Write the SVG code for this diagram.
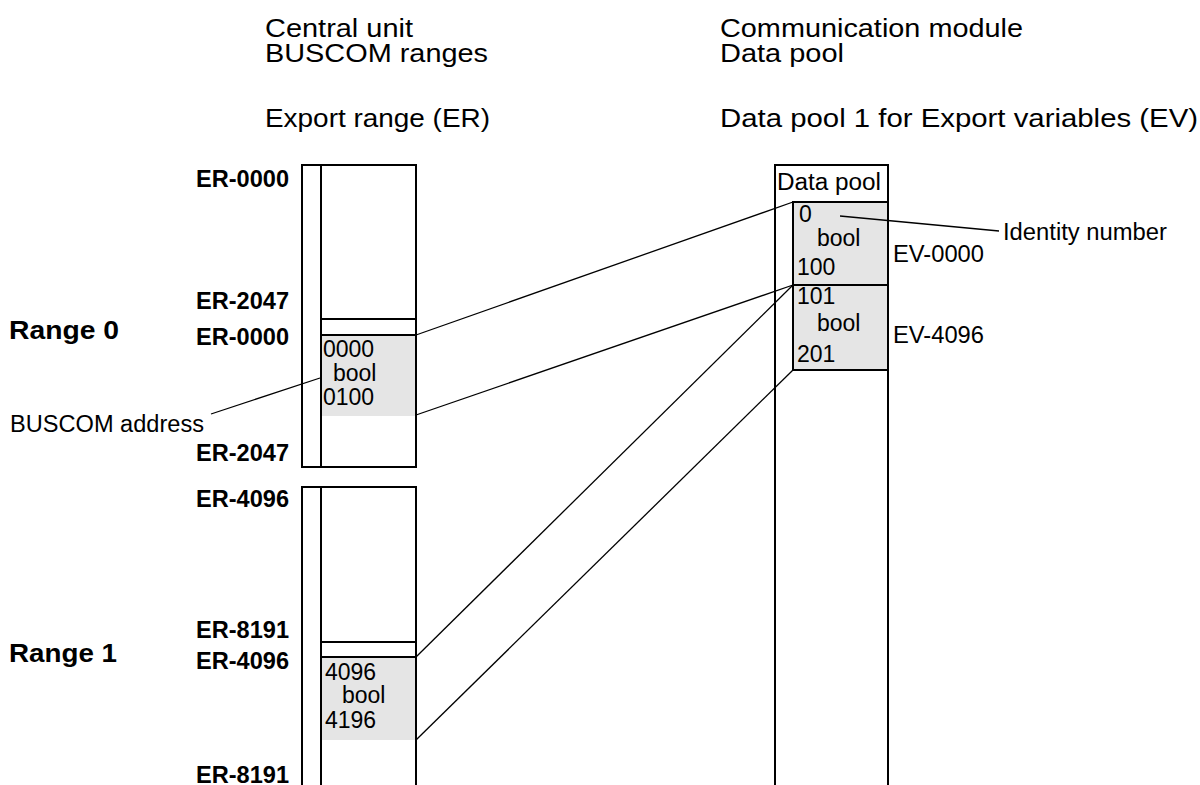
<svg xmlns="http://www.w3.org/2000/svg" width="1200" height="785" viewBox="0 0 1200 785">
  <style>
    text { font-family: "Liberation Sans", Arial, sans-serif; fill: #000; }
    .title { font-size: 26px; }
    .lbl { font-size: 23px; }
    .er { font-size: 23px; font-weight: bold; }
    .range { font-size: 26px; font-weight: bold; }
    .box { fill: none; stroke: #000; stroke-width: 2; }
    .fill { fill: #e5e5e5; stroke: none; }
    .conn { fill: none; stroke: #000; stroke-width: 1.3; }
  </style>
  <rect width="1200" height="785" fill="#fff"/>

  <!-- headings -->
  <g id="heading-central">
    <text class="title" x="265" y="37" textLength="148" lengthAdjust="spacingAndGlyphs">Central unit</text>
    <text class="title" x="265" y="62" textLength="223" lengthAdjust="spacingAndGlyphs">BUSCOM ranges</text>
    <text class="title" x="265" y="127" textLength="225" lengthAdjust="spacingAndGlyphs">Export range (ER)</text>
  </g>
  <g id="heading-module">
    <text class="title" x="720" y="37" textLength="303" lengthAdjust="spacingAndGlyphs">Communication module</text>
    <text class="title" x="720" y="62" textLength="124" lengthAdjust="spacingAndGlyphs">Data pool</text>
    <text class="title" x="720" y="127" textLength="478" lengthAdjust="spacingAndGlyphs">Data pool 1 for Export variables (EV)</text>
  </g>

  <!-- range labels -->
  <g id="range0-label">
    <text class="range" x="9" y="339" textLength="110" lengthAdjust="spacingAndGlyphs">Range 0</text>
  </g>
  <g id="range1-label">
    <text class="range" x="9" y="662" textLength="108" lengthAdjust="spacingAndGlyphs">Range 1</text>
  </g>

  <!-- export range 0 -->
  <g id="er-range0">
    <rect class="fill" x="321" y="335" width="95" height="81"/>
    <path class="box" d="M302,165 H416 V467 H302 Z M321,165 V467 M321,319 H416 M321,335 H416"/>
    <text class="er" x="196" y="187" textLength="93" lengthAdjust="spacingAndGlyphs">ER-0000</text>
    <text class="er" x="196" y="309" textLength="93" lengthAdjust="spacingAndGlyphs">ER-2047</text>
    <text class="er" x="196" y="345" textLength="93" lengthAdjust="spacingAndGlyphs">ER-0000</text>
    <text class="er" x="196" y="461" textLength="93" lengthAdjust="spacingAndGlyphs">ER-2047</text>
    <text class="lbl" x="323" y="357">0000</text>
    <text class="lbl" x="333" y="381">bool</text>
    <text class="lbl" x="323" y="405">0100</text>
  </g>

  <!-- export range 1 -->
  <g id="er-range1">
    <rect class="fill" x="321" y="657" width="95" height="83"/>
    <path class="box" d="M302,786 V487 H416 V786 M321,487 V786 M321,642 H416 M321,657 H416"/>
    <text class="er" x="196" y="507" textLength="93" lengthAdjust="spacingAndGlyphs">ER-4096</text>
    <text class="er" x="196" y="638" textLength="93" lengthAdjust="spacingAndGlyphs">ER-8191</text>
    <text class="er" x="196" y="669" textLength="93" lengthAdjust="spacingAndGlyphs">ER-4096</text>
    <text class="er" x="196" y="783" textLength="93" lengthAdjust="spacingAndGlyphs">ER-8191</text>
    <text class="lbl" x="325" y="680">4096</text>
    <text class="lbl" x="342" y="703">bool</text>
    <text class="lbl" x="325" y="728">4196</text>
  </g>

  <!-- communication module data pool -->
  <g id="data-pool">
    <rect class="fill" x="793" y="202" width="95" height="168"/>
    <path class="box" d="M775,786 V165 H888 V786 M793,370 V202 H888 M793,285 H888 M793,370 H888"/>
    <text class="lbl" x="777" y="190" textLength="104" lengthAdjust="spacingAndGlyphs">Data pool</text>
    <text class="lbl" x="799" y="222">0</text>
    <text class="lbl" x="817" y="246">bool</text>
    <text class="lbl" x="797" y="275">100</text>
    <text class="lbl" x="797" y="304">101</text>
    <text class="lbl" x="817" y="331">bool</text>
    <text class="lbl" x="797" y="362">201</text>
    <text class="lbl" x="893" y="262" textLength="91" lengthAdjust="spacingAndGlyphs">EV-0000</text>
    <text class="lbl" x="893" y="343" textLength="91" lengthAdjust="spacingAndGlyphs">EV-4096</text>
  </g>

  <!-- annotations -->
  <g id="note-identity">
    <line class="conn" x1="840" y1="216" x2="999" y2="231"/>
    <text class="lbl" x="1003" y="240" textLength="164" lengthAdjust="spacingAndGlyphs">Identity number</text>
  </g>
  <g id="note-buscom">
    <line class="conn" x1="211" y1="414" x2="320" y2="378"/>
    <text class="lbl" x="10" y="432" textLength="194" lengthAdjust="spacingAndGlyphs">BUSCOM address</text>
  </g>

  <!-- address mapping lines -->
  <g id="connectors">
    <line class="conn" x1="416" y1="335" x2="793" y2="202"/>
    <line class="conn" x1="416" y1="415" x2="793" y2="285"/>
    <line class="conn" x1="416" y1="657" x2="793" y2="285"/>
    <line class="conn" x1="416" y1="740" x2="793" y2="370"/>
  </g>
</svg>
